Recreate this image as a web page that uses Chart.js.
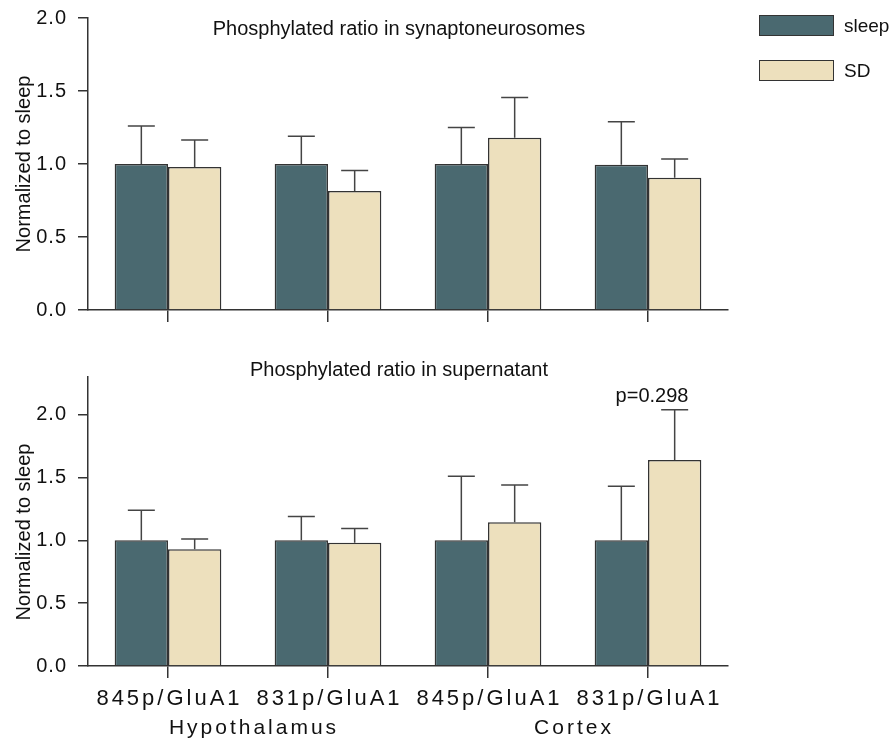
<!DOCTYPE html>
<html>
<head>
<meta charset="utf-8">
<script src="https://cdn.jsdelivr.net/npm/chart.js@4"></script>
<style>
  body{margin:0;background:#fff;width:891px;height:740px;position:relative;overflow:hidden;
       font-family:"Liberation Sans",Arial,sans-serif;color:#111}
  canvas{position:absolute;left:0}
  .t{position:absolute;white-space:nowrap;line-height:24px}
  .title{left:-1px;width:800px;text-align:center;font-size:20px}
  .ytitle{width:240px;left:-97px;text-align:center;font-size:20px;transform:rotate(-90deg)}
  .box{position:absolute;left:759px;width:73px;height:19px;border:1.5px solid #333}
  .leg{left:844px;font-size:19px}
</style>
</head>
<body>
<canvas id="cTop" width="891" height="340" style="top:0"></canvas>
<canvas id="cBot" width="891" height="400" style="top:340px"></canvas>

<div class="t title" style="top:16px">Phosphylated ratio in synaptoneurosomes</div>
<div class="t title" style="top:357px">Phosphylated ratio in supernatant</div>
<div class="t ytitle" style="top:152px">Normalized to sleep</div>
<div class="t ytitle" style="top:520px">Normalized to sleep</div>

<div class="box" style="top:15px;background:#4a6970"></div>
<div class="t leg" style="top:14px">sleep</div>
<div class="box" style="top:60px;background:#ede0bd"></div>
<div class="t leg" style="top:59px">SD</div>

<script>
const groups = ['845p/GluA1', '831p/GluA1', '845p/GluA1', '831p/GluA1'];
const regions = ['Hypothalamus', 'Cortex'];
const seriesNames = ['sleep', 'SD'];
const yTicks = [0, 0.5, 1, 1.5, 2];

// synaptoneurosomes: means and top of the error bar
const synSleep    = [1.00, 1.00, 1.00, 0.995];
const synSleepTop = [1.26, 1.19, 1.25, 1.29];
const synSD       = [0.98, 0.815, 1.18, 0.905];
const synSDTop    = [1.165, 0.955, 1.455, 1.035];

// supernatant
const supSleep    = [1.00, 1.00, 1.00, 1.00];
const supSleepTop = [1.24, 1.19, 1.51, 1.43];
const supSD       = [0.93, 0.98, 1.145, 1.64];
const supSDTop    = [1.01, 1.095, 1.44, 2.04];
const pNote = {index: 3, text: 'p=0.298'};

const COL = ['#4a6970', '#ede0bd'], EDGE = '#333', FONT = '"Liberation Sans", Arial, sans-serif';

const spacing = {id:'spacing', beforeDraw(c){ c.ctx.letterSpacing = '1px'; }};

const errorBars = {
  id:'errorBars',
  afterDatasetsDraw(c){
    const ctx = c.ctx, y = c.scales.y;
    ctx.save(); ctx.strokeStyle = '#444'; ctx.lineWidth = 1.5;
    c.data.datasets.forEach((ds, di) => {
      c.getDatasetMeta(di).data.forEach((bar, i) => {
        const top = y.getPixelForValue(ds.errTop[i]);
        ctx.beginPath();
        ctx.moveTo(bar.x, bar.y); ctx.lineTo(bar.x, top);
        ctx.moveTo(bar.x - 13.5, top); ctx.lineTo(bar.x + 13.5, top);
        ctx.stroke();
      });
    });
    ctx.restore();
  }
};

const bottomText = {
  id:'bottomText',
  afterDraw(c){
    const ctx = c.ctx, x = c.scales.x, y = c.scales.y, b = c.chartArea.bottom;
    ctx.save();
    ctx.fillStyle = '#111'; ctx.textAlign = 'center'; ctx.textBaseline = 'middle';
    ctx.font = '22px ' + FONT; ctx.letterSpacing = '3px';
    groups.forEach((g, i) => ctx.fillText(g, x.getPixelForValue(i) + 1.5, b + 33));
    ctx.font = '21px ' + FONT;
    regions.forEach((r, k) => {
      const mid = (x.getPixelForValue(2 * k) + x.getPixelForValue(2 * k + 1)) / 2;
      ctx.fillText(r, mid + 6, b + 62);
    });
    // p value over the SD bar
    ctx.letterSpacing = '0px'; ctx.font = '20px ' + FONT;
    const top = y.getPixelForValue(c.data.datasets[1].errTop[pNote.index]);
    ctx.fillText(pNote.text, x.getPixelForValue(pNote.index) + 4, top - 13);
    ctx.restore();
  }
};

function makeChart(id, sleep, sleepTop, sd, sdTop, yMax, pad, extra){
  return new Chart(document.getElementById(id), {
    type: 'bar',
    data: {
      labels: groups,
      datasets: [
        {label: seriesNames[0], data: sleep, errTop: sleepTop, backgroundColor: COL[0]},
        {label: seriesNames[1], data: sd, errTop: sdTop, backgroundColor: COL[1]}
      ]
    },
    options: {
      responsive: false, animation: false,
      layout: {padding: pad},
      datasets: {bar: {borderColor: EDGE, borderWidth: 1.5, categoryPercentage: 2/3, barPercentage: 1}},
      plugins: {legend: {display: false}, tooltip: {enabled: false}},
      scales: {
        x: {
          grid: {offset: false, drawOnChartArea: false, tickLength: 12, color: EDGE, lineWidth: 1.5},
          border: {color: EDGE, width: 1.5},
          ticks: {display: false},
          afterFit(s){ s.height = 12; s.paddingLeft = 0; s.paddingRight = 0; }
        },
        y: {
          min: 0, max: yMax,
          grid: {drawOnChartArea: false, tickLength: 10, color: EDGE, lineWidth: 1.5},
          border: {color: EDGE, width: 1.5},
          ticks: {stepSize: 0.5, padding: 11, color: '#111', font: {family: FONT, size: 20},
                  callback: v => v.toFixed(1)},
          afterBuildTicks(s){ s.ticks = yTicks.map(v => ({value: v})); },
          afterFit(s){ s.width = 88; s.paddingTop = 0; s.paddingBottom = 0; }
        }
      }
    },
    plugins: [spacing, errorBars].concat(extra)
  });
}

makeChart('cTop', synSleep, synSleepTop, synSD, synSDTop, 2.0,
  {left: 0, right: 163, top: 18, bottom: 18}, []);
makeChart('cBot', supSleep, supSleepTop, supSD, supSDTop, 2.3,
  {left: 0, right: 163, top: 37, bottom: 62}, [bottomText]);
</script>
</body>
</html>
